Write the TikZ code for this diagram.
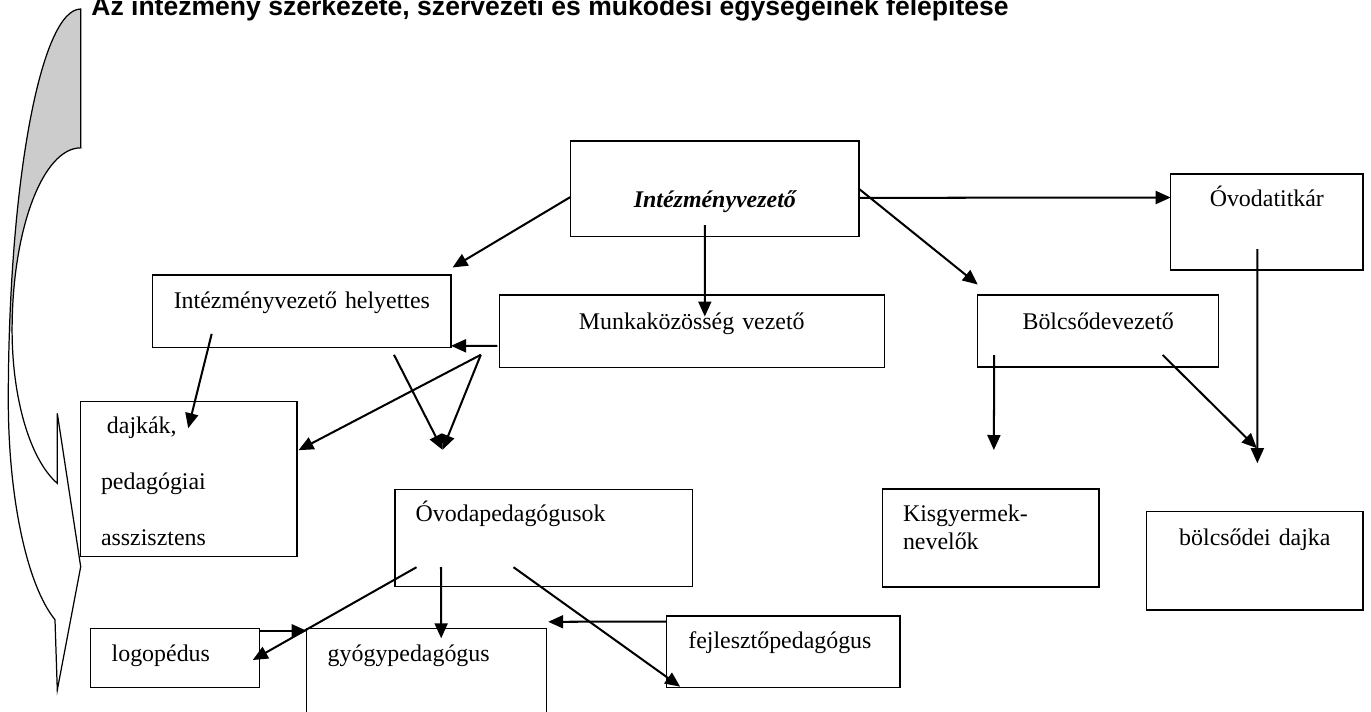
\documentclass[tikz,border=0pt]{standalone}
\usepackage{fontspec}
\setmainfont{Liberation Serif}
\newfontfamily\titlefont{Liberation Sans}
\usetikzlibrary{arrows.meta}
\definecolor{calloutgray}{HTML}{CCCCCC}

\begin{document}
\begin{tikzpicture}[
  box/.style={draw, line width=0.8pt, inner sep=0pt, outer sep=0pt, anchor=north west, font=\fontsize{13.6}{15.6}\selectfont},
  arr/.style={line width=1.15pt, -{Triangle[length=3mm,width=2.6mm]}}]
\useasboundingbox (0,0) rectangle (27.42,-14.22);
\clip (0,0) rectangle (27.42,-14.22);
\node[anchor=base west, inner sep=0pt, font=\titlefont\bfseries\fontsize{15.1}{18}\selectfont] (titel) at (1.82,-0.3) {Az intézmény szerkezete, szervezeti és működési egységeinek felépítése};
\fill[calloutgray] (1.614,-0.18) arc[start angle=90, end angle=170, x radius=1.448, y radius=7.82] -- (0.242,-6.6) arc[start angle=180, end angle=90, x radius=1.374, y radius=3.646] -- cycle;
\draw[line width=0.7pt] (1.614,-2.954) -- (1.614,-0.18) arc[start angle=90, end angle=180, x radius=1.448, y radius=7.82] arc[start angle=180, end angle=249.2, x radius=1.448, y radius=4.70] -- (1.146,-13.8) -- (1.614,-11.334) -- (1.146,-8.266) -- (1.146,-9.666) arc[start angle=250, end angle=180, x radius=1.374, y radius=3.26] arc[start angle=180, end angle=90, x radius=1.374, y radius=3.646] -- cycle;
\node[box, text width=5.766cm, align=center, text height=1.326cm, text depth=0.588cm] (ivez) at (11.414,-2.82) {\bfseries\itshape Intézményvezető};
\node[box, text width=3.846cm, align=center, text height=0.64cm, text depth=1.28cm] (titkar) at (23.414,-3.48) {Óvodatitkár};
\node[box, text width=4.82cm, align=center, text height=0.686cm, text depth=0.754cm] (bvez) at (19.554,-5.9) {Bölcsődevezető};
\node[box, text width=7.7cm, align=center, text height=0.686cm, text depth=0.76cm] (mkv) at (9.986,-5.9) {Munkaközösség vezető};
\node[box, text width=5.966cm, align=center, text height=0.666cm, text depth=0.78cm] (helyt) at (3.054,-5.5) {Intézményvezető helyettes};
\node[box, inner xsep=4.06mm, text width=3.514cm, align=left, text height=0.632cm, text depth=2.468cm] (dajka) at (1.614,-8.034) {\hspace*{3.4pt}dajkák,\\[16.2pt]pedagógiai\\[16.2pt]asszisztens};
\node[box, inner xsep=4.14mm, text width=5.118cm, align=left, text height=0.648cm, text depth=1.3cm] (ovped) at (7.9,-9.786) {Óvodapedagógusok};
\node[box, inner xsep=4.06mm, text width=3.514cm, align=left, text height=0.654cm, text depth=1.306cm] (kisgy) at (17.654,-9.78) {Kisgyermek-\\nevelők};
\node[box, text width=4.326cm, align=center, text height=0.666cm, text depth=1.3cm] (bdajka) at (22.934,-10.234) {bölcsődei dajka};
\node[box, inner xsep=4.2mm, text width=2.532cm, align=left, text height=0.668cm, text depth=0.52cm] (logo) at (1.814,-12.566) {logopédus};
\node[box, inner xsep=4.2mm, text width=3.96cm, align=left, text height=0.668cm, text depth=1.566cm] (gyogy) at (6.134,-12.566) {gyógypedagógus};
\node[box, inner xsep=4.32mm, text width=3.802cm, align=left, text height=0.646cm, text depth=0.788cm] (fejl) at (13.334,-12.32) {fejlesztőpedagógus};
\draw[arr] ([yshift=-1.6mm]ivez.west) -- ([xshift=0.3mm,yshift=1.5mm]helyt.north east);
\draw[arr] ([xshift=-2mm,yshift=2.3mm]ivez.south) -- ([xshift=2.6mm,yshift=-4.3mm]mkv.north);
\draw[arr] (ivez.east) -- ([yshift=2.1mm]bvez.north west);
\draw[arr] ([yshift=-1.8mm]ivez.east) -- ([yshift=4.9mm]titkar.west);
\draw[arr] ([xshift=-1.9mm,yshift=4.2mm]titkar.south) -- ([xshift=0.5mm,yshift=9.7mm]bdajka.north);
\draw[arr] ([xshift=3.3mm,yshift=2.4mm]bvez.south west) -- ([xshift=0.6mm,yshift=7.8mm]kisgy.north);
\draw[arr] ([xshift=-11.2mm,yshift=2.4mm]bvez.south east) -- ([xshift=0.4mm,yshift=12.7mm]bdajka.north);
\draw[arr] ([xshift=-0.4mm,yshift=4.3mm]mkv.south west) -- ([yshift=0.3mm]helyt.south east);
\draw[arr] ([xshift=-3.7mm,yshift=2.5mm]mkv.south west) -- ([xshift=0.3mm,yshift=5.8mm]dajka.east);
\draw[arr] ([xshift=-3.7mm,yshift=2.5mm]mkv.south west) -- ([xshift=9.5mm,yshift=7.9mm]ovped.north west);
\draw[arr] ([xshift=-11.4mm,yshift=-1.5mm]helyt.south east) -- ([xshift=9.5mm,yshift=7.9mm]ovped.north west);
\draw[arr] ([xshift=11.8mm,yshift=2.7mm]helyt.south west) -- ([xshift=21.5mm,yshift=-5.3mm]dajka.north west);
\draw[arr] ([xshift=4.3mm,yshift=3.9mm]ovped.south west) -- ([xshift=-1.3mm,yshift=-0.4mm]logo.east);
\draw[arr] ([xshift=9.2mm,yshift=3.9mm]ovped.south west) -- ([xshift=2.9mm,yshift=-2mm]gyogy.north);
\draw[arr] ([xshift=23.7mm,yshift=3.9mm]ovped.south west) -- ([xshift=2.7mm,yshift=0.2mm]fejl.south west);
\draw[arr] ([yshift=-1.1mm]fejl.north west) -- ([xshift=0.3mm,yshift=1.3mm]gyogy.north east);
\draw[arr] ([yshift=-0.5mm]logo.north east) -- ([yshift=-0.5mm]gyogy.north west);
\end{tikzpicture}
\end{document}
